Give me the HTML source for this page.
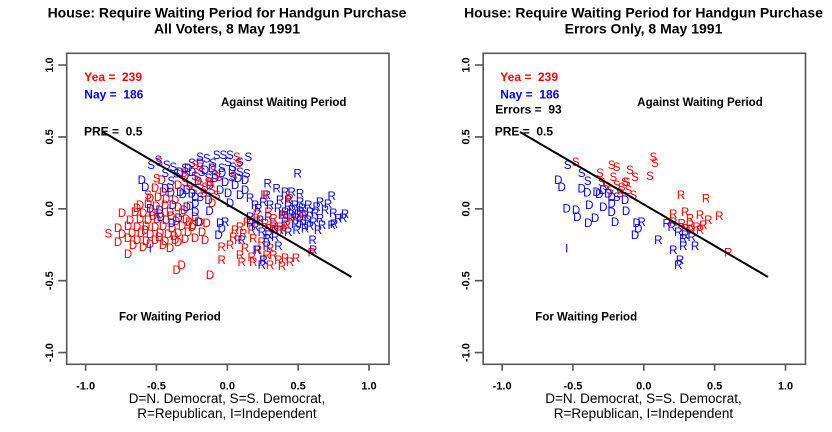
<!DOCTYPE html>
<html><head><meta charset="utf-8"><style>
html,body{margin:0;padding:0;background:#fff;}
svg{display:block;}
text{font-family:"Liberation Sans",Arial,sans-serif;}
</style></head><body>
<svg width="832" height="432" viewBox="0 0 832 432" xmlns="http://www.w3.org/2000/svg">
<rect width="832" height="432" fill="#fff"/>

<!-- Titles -->
<g font-weight="bold" font-size="14" text-anchor="middle" fill="#000">
<text x="227" y="17.7">House: Require Waiting Period for Handgun Purchase</text>
<text x="227" y="33.3">All Voters, 8 May 1991</text>
<text x="643.5" y="17.7">House: Require Waiting Period for Handgun Purchase</text>
<text x="643.5" y="33.3">Errors Only, 8 May 1991</text>
</g>

<!-- x labels -->
<g font-size="13.5" text-anchor="middle" fill="#000">
<text x="227" y="403">D=N. Democrat, S=S. Democrat,</text>
<text x="227" y="418">R=Republican, I=Independent</text>
<text x="643.5" y="403">D=N. Democrat, S=S. Democrat,</text>
<text x="643.5" y="418">R=Republican, I=Independent</text>
</g>

<!-- Axes & boxes -->
<g stroke="#555" stroke-width="1.6" fill="none">
<rect x="66.7" y="53.3" width="322.3" height="311"/>
<rect x="483.2" y="53.3" width="322.3" height="311"/>
<path d="M85.6 364.3V370.7M156.45 364.3V370.7M227.3 364.3V370.7M298.15 364.3V370.7M369 364.3V370.7"/>
<path d="M58.3 65H66.7M58.3 136.9H66.7M58.3 208.8H66.7M58.3 280.7H66.7M58.3 352.6H66.7"/>
<path d="M502.1 364.3V370.7M572.95 364.3V370.7M643.8 364.3V370.7M714.65 364.3V370.7M785.5 364.3V370.7"/>
<path d="M474.8 65H483.2M474.8 136.9H483.2M474.8 208.8H483.2M474.8 280.7H483.2M474.8 352.6H483.2"/>
</g>

<!-- tick labels -->
<g font-size="11" font-weight="bold" text-anchor="middle" fill="#000">
<text x="85.6" y="389.6">-1.0</text><text x="156.45" y="389.6">-0.5</text><text x="227.3" y="389.6">0.0</text><text x="298.15" y="389.6">0.5</text><text x="369" y="389.6">1.0</text>
<text x="502.1" y="389.6">-1.0</text><text x="572.95" y="389.6">-0.5</text><text x="643.8" y="389.6">0.0</text><text x="714.65" y="389.6">0.5</text><text x="785.5" y="389.6">1.0</text>
<text transform="translate(53,65) rotate(-90)">1.0</text>
<text transform="translate(53,136.9) rotate(-90)">0.5</text>
<text transform="translate(53,208.8) rotate(-90)">0.0</text>
<text transform="translate(53,280.7) rotate(-90)">-0.5</text>
<text transform="translate(53,352.6) rotate(-90)">-1.0</text>
<text transform="translate(469.5,65) rotate(-90)">1.0</text>
<text transform="translate(469.5,136.9) rotate(-90)">0.5</text>
<text transform="translate(469.5,208.8) rotate(-90)">0.0</text>
<text transform="translate(469.5,280.7) rotate(-90)">-0.5</text>
<text transform="translate(469.5,352.6) rotate(-90)">-1.0</text>
</g>

<!-- in-plot labels -->
<g font-weight="bold" font-size="12">
<text x="84.3" y="81" fill="#f00">Yea =&#160; 239</text>
<text x="84.3" y="98.7" fill="#00f">Nay =&#160; 186</text>
<text x="84" y="135.7" fill="#000">PRE =&#160; 0.5</text>
<text x="500.3" y="81" fill="#f00">Yea =&#160; 239</text>
<text x="500.3" y="98.7" fill="#00f">Nay =&#160; 186</text>
<text x="495.3" y="113.3" fill="#000">Errors =&#160; 93</text>
<text x="494.7" y="135.7" fill="#000">PRE =&#160; 0.5</text>
</g>
<g font-weight="bold" font-size="11.5" fill="#000">
<text x="221" y="106">Against Waiting Period</text>
<text x="119" y="320.7">For Waiting Period</text>
<text x="637.3" y="106">Against Waiting Period</text>
<text x="535.3" y="320.7">For Waiting Period</text>
</g>

<!-- Correctly classified points (left panel only) -->
<g font-size="11.5" text-anchor="middle" transform="translate(0,4.1)">
<g fill="#f00">
<text x="150" y="198">D</text><text x="158" y="197">D</text><text x="166" y="199">D</text><text x="175" y="200">D</text>
<text x="140" y="205">D</text><text x="148" y="204">D</text><text x="156" y="206">D</text><text x="165" y="205">D</text><text x="178" y="207">D</text><text x="190" y="206">D</text>
<text x="122" y="213">D</text><text x="135" y="212">D</text><text x="143" y="213">D</text><text x="152" y="212">D</text><text x="160" y="214">D</text><text x="170" y="212">D</text><text x="182" y="213">D</text>
<text x="130" y="220">D</text><text x="140" y="219">D</text><text x="148" y="220">D</text><text x="157" y="219">D</text><text x="166" y="220">D</text><text x="176" y="221">D</text><text x="186" y="219">D</text>
<text x="118" y="228">D</text><text x="128" y="226">D</text><text x="137" y="227">D</text><text x="146" y="226">D</text><text x="155" y="227">D</text><text x="163" y="226">D</text><text x="172" y="228">D</text><text x="182" y="226">D</text><text x="192" y="227">D</text>
<text x="122" y="234">D</text><text x="132" y="233">D</text><text x="141" y="233">D</text><text x="150" y="234">D</text><text x="160" y="233">D</text><text x="168" y="234">D</text><text x="178" y="233">D</text><text x="188" y="232">D</text>
<text x="118" y="242">D</text><text x="128" y="238">D</text><text x="137" y="240">D</text><text x="146" y="241">D</text><text x="155" y="240">D</text><text x="165" y="241">D</text><text x="175" y="240">D</text><text x="185" y="239">D</text>
<text x="133" y="245">D</text><text x="143" y="247">D</text><text x="163" y="245">D</text><text x="178" y="242">D</text><text x="128" y="254">D</text>
<text x="137" y="208">D</text><text x="153" y="216">D</text><text x="171" y="216">D</text><text x="145" y="230">D</text><text x="159" y="237">D</text><text x="174" y="236">D</text><text x="189" y="222">D</text><text x="150" y="244">D</text><text x="170" y="248">D</text><text x="184" y="210">D</text>
<text x="176.7" y="270">D</text><text x="181.7" y="265">D</text><text x="210" y="275">D</text>
<text x="161.7" y="180">D</text><text x="170" y="188">D</text><text x="178" y="185">D</text><text x="163" y="192">D</text><text x="155" y="188">D</text>
<text x="195" y="216.7">D</text><text x="200" y="221.7">D</text><text x="193" y="225">D</text><text x="206.7" y="223">D</text><text x="212" y="203">D</text><text x="202" y="232">D</text><text x="195" y="238">D</text><text x="205" y="240">D</text>
<text x="108.3" y="233.3">S</text><text x="156.7" y="178.3">S</text><text x="148" y="195">S</text>
<text x="235" y="230">R</text><text x="240" y="226.7">R</text><text x="243.3" y="233.3">R</text><text x="251.7" y="230">R</text><text x="253.3" y="238.3">R</text><text x="261.7" y="241.7">R</text><text x="238.3" y="240">R</text><text x="233.3" y="236.7">R</text>
<text x="240" y="255">R</text><text x="241.7" y="261.7">R</text><text x="251.7" y="256.7">R</text><text x="253.3" y="261.7">R</text><text x="266.7" y="255">R</text><text x="273.3" y="255">R</text><text x="263.3" y="260">R</text><text x="278.3" y="260">R</text>
<text x="221.7" y="246.7">R</text><text x="221.7" y="260">R</text><text x="230" y="245">R</text><text x="245" y="248">R</text><text x="258" y="250">R</text><text x="270" y="248">R</text><text x="285" y="258">R</text><text x="290" y="262">R</text><text x="247" y="222">R</text><text x="270" y="265">R</text><text x="282" y="266">R</text><text x="296" y="258">R</text>
</g>
<g fill="#00f">
<text x="297.7" y="173.3">R</text><text x="267.7" y="183.3">R</text><text x="276.7" y="188.3">R</text><text x="285" y="191.7">R</text><text x="291.7" y="191.7">R</text><text x="300" y="193.3">R</text><text x="331.7" y="196">R</text><text x="320" y="201.7">R</text><text x="316.7" y="206.7">R</text>
<text x="266.7" y="195">R</text><text x="263.3" y="201.7">R</text><text x="258.3" y="208.3">R</text><text x="270" y="205">R</text><text x="280" y="200">R</text><text x="288.3" y="200">R</text><text x="300" y="201.7">R</text><text x="308.3" y="205">R</text>
<text x="333.3" y="212.7">R</text><text x="338.3" y="218.3">R</text><text x="331.7" y="225">R</text><text x="320" y="218.3">R</text><text x="313.3" y="221.7">R</text><text x="305" y="228.3">R</text><text x="296.7" y="230">R</text><text x="288.3" y="231.7">R</text><text x="280" y="230">R</text><text x="273.3" y="226.7">R</text>
<text x="312.7" y="240">R</text><text x="313.3" y="250">R</text><text x="250" y="216.7">R</text><text x="260" y="220">R</text><text x="268.3" y="216.7">R</text>
<text x="285" y="212">R</text><text x="292" y="210">R</text><text x="298" y="214">R</text><text x="290" y="218">R</text><text x="300" y="220">R</text><text x="295" y="224">R</text><text x="285" y="222">R</text><text x="305" y="215">R</text><text x="310" y="212">R</text><text x="302" y="208">R</text>
<text x="282" y="215">R</text><text x="278" y="208">R</text><text x="288" y="206">R</text><text x="295" y="205">R</text><text x="308" y="220">R</text><text x="315" y="213">R</text><text x="325" y="210">R</text><text x="328" y="204">R</text><text x="345" y="214">R</text><text x="322" y="225">R</text><text x="318" y="230">R</text>
<text x="290" y="214">R</text><text x="296" y="218">R</text><text x="303" y="224">R</text><text x="310" y="226">R</text><text x="300" y="211">R</text>
<text x="255" y="205">R</text><text x="250" y="198">R</text><text x="343" y="218">R</text><text x="334" y="224">R</text>
<text x="185" y="176">D</text><text x="192" y="172">D</text><text x="198" y="181">D</text><text x="205" y="170">D</text><text x="210" y="185">D</text><text x="215" y="178">D</text><text x="220" y="190">D</text><text x="225" y="182">D</text><text x="228" y="193">D</text><text x="230" y="203">D</text>
<text x="200" y="163">D</text><text x="212" y="168">D</text><text x="222" y="173">D</text><text x="188" y="168">D</text><text x="235" y="185">D</text><text x="240" y="195">D</text><text x="245" y="190">D</text><text x="238" y="178">D</text><text x="245" y="180">D</text><text x="232" y="170">D</text><text x="180" y="172">D</text>
<text x="158.3" y="160">S</text><text x="166.7" y="165">S</text><text x="173.3" y="166.7">S</text><text x="176.7" y="173.3">S</text><text x="185" y="168">S</text><text x="192" y="163">S</text><text x="200" y="156.7">S</text><text x="206.7" y="158.3">S</text>
<text x="216.7" y="155">S</text><text x="223.3" y="155">S</text><text x="230" y="155">S</text><text x="248.3" y="156.7">S</text><text x="246.7" y="173.3">S</text><text x="228" y="161.7">S</text><text x="233" y="166.7">S</text><text x="221.7" y="168">S</text>
<text x="231.7" y="176.7">S</text><text x="215" y="175">S</text><text x="201.7" y="171.7">S</text><text x="208.3" y="178">S</text><text x="213" y="163">S</text><text x="240" y="162">S</text><text x="195" y="176">S</text><text x="240" y="172">S</text>
</g>
</g>

<!-- Errors: left panel -->
<g font-size="11.5" text-anchor="middle" transform="translate(0,4.1)">
<g fill="#f00">
<text x="159.2" y="161.7">S</text><text x="183.5" y="173">S</text><text x="195.2" y="165">S</text><text x="200.2" y="166.7">S</text><text x="213.5" y="170">S</text><text x="218.5" y="176.7">S</text><text x="185.2" y="181.7">S</text><text x="196.8" y="176.7">S</text><text x="200.2" y="185">S</text><text x="210.2" y="181.7">S</text>
<text x="211.8" y="190">S</text><text x="216.8" y="195">S</text><text x="193.5" y="190">S</text><text x="203.5" y="193">S</text><text x="236.8" y="156.7">S</text><text x="238.5" y="162.7">S</text><text x="233.5" y="176">S</text><text x="208.5" y="181.7">S</text><text x="205.2" y="186.7">S</text><text x="189.5" y="186">S</text>
<text x="264.5" y="195">R</text><text x="289.5" y="198.3">R</text><text x="256.8" y="214">R</text><text x="268.5" y="211.7">R</text><text x="273.5" y="218.3">R</text><text x="283.5" y="215">R</text><text x="291.8" y="220">R</text><text x="302.8" y="216">R</text><text x="256.8" y="221.7">R</text>
<text x="265.2" y="223.3">R</text><text x="273.5" y="225">R</text><text x="280.2" y="226.7">R</text><text x="286.8" y="225">R</text><text x="275.2" y="230">R</text><text x="283.5" y="230">R</text><text x="268.5" y="228.3">R</text><text x="311.8" y="252.3">R</text>
</g>
<g fill="#00f">
<text x="151.2" y="165">S</text><text x="165.2" y="172.7">S</text><text x="171.2" y="180.7">S</text><text x="200.2" y="196.7">S</text>
<text x="141.8" y="180">D</text><text x="145.2" y="186.7">D</text><text x="165.2" y="188.3">D</text><text x="170.8" y="192.3">D</text><text x="180.2" y="191.7">D</text><text x="182.8" y="194">D</text><text x="186.8" y="190">D</text><text x="191.8" y="193.3">D</text>
<text x="195.2" y="196.7">D</text><text x="208.5" y="200">D</text><text x="186.8" y="206.7">D</text><text x="195.2" y="203.3">D</text><text x="195.2" y="211.7">D</text><text x="150.2" y="208.3">D</text><text x="159.5" y="210">D</text><text x="160.8" y="216.7">D</text>
<text x="172.8" y="205">D</text><text x="171.8" y="222.7">D</text><text x="178.5" y="217.7">D</text><text x="198.5" y="221.7">D</text><text x="209.5" y="210.7">D</text><text x="220.2" y="223">D</text><text x="221.8" y="228.3">D</text><text x="218.5" y="235">D</text>
<text x="150.2" y="248.3">I</text>
<text x="225.2" y="221.7">R</text><text x="250.2" y="223.3">R</text><text x="255.2" y="226.7">R</text><text x="261.8" y="231.7">R</text><text x="268.5" y="235">R</text><text x="275.2" y="236.7">R</text><text x="266.8" y="238.3">R</text>
<text x="241.8" y="240">R</text><text x="266.8" y="246">R</text><text x="278.5" y="246">R</text><text x="256.8" y="250">R</text><text x="263.5" y="260">R</text><text x="261.8" y="265">R</text>
</g>
</g>

<!-- Errors: right panel -->
<g font-size="11.5" text-anchor="middle" transform="translate(416.5,4.1)">
<g fill="#f00">
<text x="159.2" y="161.7">S</text><text x="183.5" y="173">S</text><text x="195.2" y="165">S</text><text x="200.2" y="166.7">S</text><text x="213.5" y="170">S</text><text x="218.5" y="176.7">S</text><text x="185.2" y="181.7">S</text><text x="196.8" y="176.7">S</text><text x="200.2" y="185">S</text><text x="210.2" y="181.7">S</text>
<text x="211.8" y="190">S</text><text x="216.8" y="195">S</text><text x="193.5" y="190">S</text><text x="203.5" y="193">S</text><text x="236.8" y="156.7">S</text><text x="238.5" y="162.7">S</text><text x="233.5" y="176">S</text><text x="208.5" y="181.7">S</text><text x="205.2" y="186.7">S</text><text x="189.5" y="186">S</text>
<text x="264.5" y="195">R</text><text x="289.5" y="198.3">R</text><text x="256.8" y="214">R</text><text x="268.5" y="211.7">R</text><text x="273.5" y="218.3">R</text><text x="283.5" y="215">R</text><text x="291.8" y="220">R</text><text x="302.8" y="216">R</text><text x="256.8" y="221.7">R</text>
<text x="265.2" y="223.3">R</text><text x="273.5" y="225">R</text><text x="280.2" y="226.7">R</text><text x="286.8" y="225">R</text><text x="275.2" y="230">R</text><text x="283.5" y="230">R</text><text x="268.5" y="228.3">R</text><text x="311.8" y="252.3">R</text>
</g>
<g fill="#00f">
<text x="151.2" y="165">S</text><text x="165.2" y="172.7">S</text><text x="171.2" y="180.7">S</text><text x="200.2" y="196.7">S</text>
<text x="141.8" y="180">D</text><text x="145.2" y="186.7">D</text><text x="165.2" y="188.3">D</text><text x="170.8" y="192.3">D</text><text x="180.2" y="191.7">D</text><text x="182.8" y="194">D</text><text x="186.8" y="190">D</text><text x="191.8" y="193.3">D</text>
<text x="195.2" y="196.7">D</text><text x="208.5" y="200">D</text><text x="186.8" y="206.7">D</text><text x="195.2" y="203.3">D</text><text x="195.2" y="211.7">D</text><text x="150.2" y="208.3">D</text><text x="159.5" y="210">D</text><text x="160.8" y="216.7">D</text>
<text x="172.8" y="205">D</text><text x="171.8" y="222.7">D</text><text x="178.5" y="217.7">D</text><text x="198.5" y="221.7">D</text><text x="209.5" y="210.7">D</text><text x="220.2" y="223">D</text><text x="221.8" y="228.3">D</text><text x="218.5" y="235">D</text>
<text x="150.2" y="248.3">I</text>
<text x="225.2" y="221.7">R</text><text x="250.2" y="223.3">R</text><text x="255.2" y="226.7">R</text><text x="261.8" y="231.7">R</text><text x="268.5" y="235">R</text><text x="275.2" y="236.7">R</text><text x="266.8" y="238.3">R</text>
<text x="241.8" y="240">R</text><text x="266.8" y="246">R</text><text x="278.5" y="246">R</text><text x="256.8" y="250">R</text><text x="263.5" y="260">R</text><text x="261.8" y="265">R</text>
</g>
</g>

<!-- cutting lines -->
<line x1="103" y1="132" x2="351.5" y2="277" stroke="#000" stroke-width="2"/>
<line x1="520" y1="132" x2="768" y2="277" stroke="#000" stroke-width="2"/>
</svg>
</body></html>
